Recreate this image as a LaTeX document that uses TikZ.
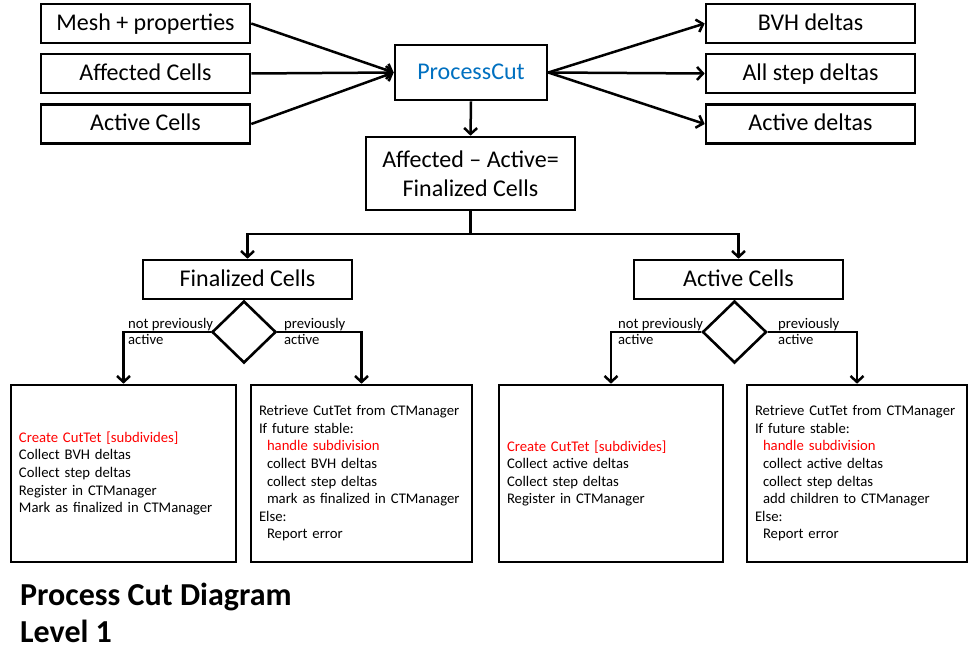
\documentclass[tikz,border=0pt]{standalone}
\usepackage{fontspec}
\setmainfont{Carlito}
\usepackage{xcolor}
\usetikzlibrary{arrows.meta,shapes.geometric}
\definecolor{cutblue}{RGB}{0,112,192}

\begin{document}
\begin{tikzpicture}[x=1pt,y=-1pt,
  cell/.style={draw, line width=2.6pt, inner sep=0pt, minimum width=209pt, minimum height=39pt, font=\fontsize{24}{28.8}\selectfont},
  box/.style={cell, text height=18pt, text depth=4pt},
  bigbox/.style={draw, line width=2.6pt, inner xsep=8pt, inner ysep=0pt, minimum height=177pt, align=left, font=\fontsize{14.7}{17.6}\selectfont},
  choice/.style={draw, diamond, line width=2.6pt, inner sep=0pt, minimum width=64pt, minimum height=62pt},
  lbl/.style={inner sep=0pt, align=left, anchor=west, font=\fontsize{14.7}{16}\selectfont},
  ttl/.style={inner sep=0pt, anchor=base west, font=\bfseries\fontsize{32}{37}\selectfont},
  arr/.style={line width=2.5pt, -{Straight Barb[length=6pt,width=13pt]}}]
\useasboundingbox (0,0) rectangle (969,671);
% centre
\node[box, minimum width=152pt, minimum height=55pt, text=cutblue] (pcut) at (471,72.5) {ProcessCut};
\node[cell, minimum height=73pt, align=center] (fin) at (470.5,173.5) {Affected – Active=\\Finalized Cells};
% inputs and outputs
\foreach \n/\y/\t in {mesh/23.5/Mesh + properties, affin/73.5/Affected Cells, actin/124/Active Cells}
     		\node[box] (\n) at (145.5,\y) {\t};
\foreach \n/\y/\t in {bvh/23.5/BVH deltas, stepd/73.5/All step deltas, actd/124/Active deltas}
     		\node[box] (\n) at (810.5,\y) {\t};
\foreach \n in {mesh,affin,actin}
     		\draw[arr] (\n.east) -- (pcut.west);
\foreach \n in {bvh,stepd,actd}
     		\draw[arr] (pcut.east) -- (\n.west);
\draw[arr] (pcut.south) -- (fin.north);
% split
\node[box] (fcells) at (247.5,279.5) {Finalized Cells};
\node[box] (acells) at (738.5,279.5) {Active Cells};
\coordinate (split) at (470.5,234);
\draw[line width=2.5pt] (fin.south) -- (split);
\draw[arr] (split) -| (fcells.north);
\draw[arr] (split) -| (acells.north);
% decisions
\node[choice] (dl) at (244,332) {};
\node[choice] (dr) at (734.5,332) {};
\node[lbl] (dlno) at (128,331) {not previously\\active};
\node[lbl] (dlyes) at (284,331) {previously\\active};
\node[lbl] (drno) at (618,331) {not previously\\active};
\node[lbl] (dryes) at (778,331) {previously\\active};
% work boxes
\node[bigbox, text width=209pt] (bl1) at (123.5,473.5)
  {\textcolor{red}{Create CutTet [subdivides]}\\Collect BVH deltas\\Collect step deltas\\Register in CTManager\\Mark as finalized in CTManager};
\node[bigbox, text width=205pt] (bl2) at (361.5,473.5)
  {Retrieve CutTet from CTManager\\If future stable:\\\hspace*{8pt}\textcolor{red}{handle subdivision}\\\hspace*{8pt}collect BVH deltas\\\hspace*{8pt}collect step deltas\\\hspace*{8pt}mark as finalized in CTManager\\Else:\\\hspace*{8pt}Report error};
\node[bigbox, text width=208pt] (br1) at (611,473.5)
  {\textcolor{red}{Create CutTet [subdivides]}\\Collect active deltas\\Collect step deltas\\Register in CTManager};
\node[bigbox, text width=204pt] (br2) at (857,473.5)
  {Retrieve CutTet from CTManager\\If future stable:\\\hspace*{8pt}\textcolor{red}{handle subdivision}\\\hspace*{8pt}collect active deltas\\\hspace*{8pt}collect step deltas\\\hspace*{8pt}add children to CTManager\\Else:\\\hspace*{8pt}Report error};
\draw[arr] (dl.west) -| (bl1.north);
\draw[arr] (dl.east) -| (bl2.north);
\draw[arr] (dr.west) -| (br1.north);
\draw[arr] (dr.east) -| (br2.north);
% title
\node[ttl] (ttl1) at (20,605) {Process Cut Diagram};
\node[ttl] (ttl2) at (20,642) {Level 1};
\end{tikzpicture}
\end{document}
